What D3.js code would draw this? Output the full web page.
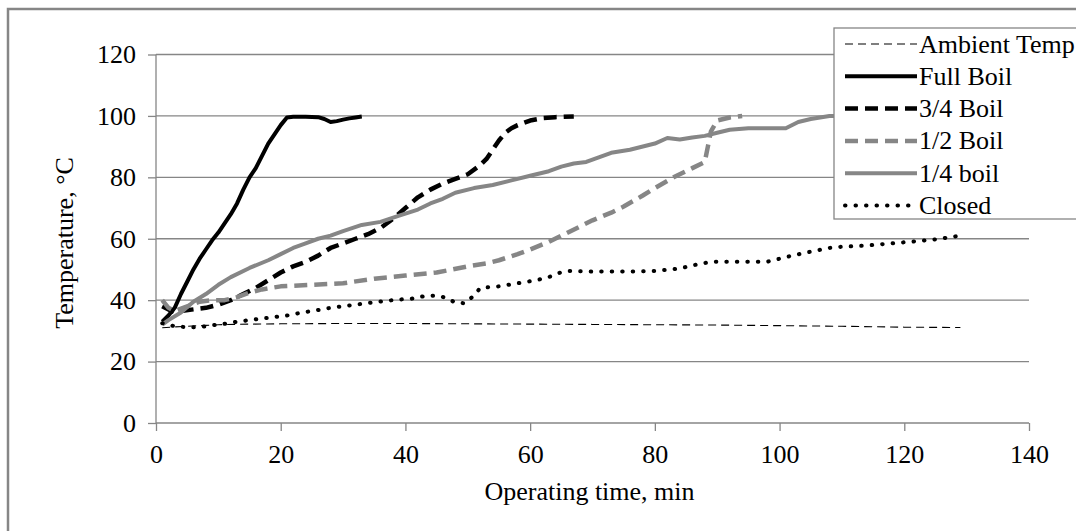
<!DOCTYPE html>
<html>
<head>
<meta charset="utf-8">
<script src="https://cdn.jsdelivr.net/npm/d3@7"></script>
<style>
  body { margin: 0; background: #fff; }
  svg { display: block; font-family: "Liberation Serif", "Times New Roman", serif; }
</style>
</head>
<body>
<div id="chart"></div>
<script>
// series data: time (min) and temperature (°C)
var ambientTime = [1, 3, 5, 8, 10, 15, 20, 30, 40, 50, 60, 70, 80, 90, 100, 110, 120, 129];
var ambientTemp = [31, 31.3, 31.5, 31.8, 32, 32.2, 32.3, 32.4, 32.4, 32.3, 32.2, 32.1, 32, 31.9, 31.7, 31.5, 31.2, 31.1];

var fullTime = [1, 2, 3, 4, 5, 6, 7, 8, 9, 10, 11, 12, 13, 14, 15, 16, 17, 18, 19, 20, 21, 22, 24, 26, 27, 28, 29, 30, 31, 32, 33];
var fullTemp = [33, 35, 37.5, 42, 46, 50, 53.5, 56.5, 59.5, 62, 65, 68, 71.5, 76, 80, 83, 87, 91, 94, 97, 99.5, 99.7, 99.7, 99.6, 99, 98, 98.3, 98.8, 99.2, 99.5, 99.8];

var threeQTime = [1, 2, 3, 4, 6, 8, 10, 12, 14, 16, 18, 20, 22, 24, 26, 28, 30, 32, 34, 36, 38, 40, 42, 44, 46, 48, 50, 52, 53, 54, 55, 56, 57, 58, 60, 62, 64, 67];
var threeQTemp = [38, 37, 36, 36.5, 37, 37.5, 38.5, 40, 42, 44, 46.5, 49, 51, 52.5, 54.5, 57, 58.5, 60, 61.5, 63.5, 66.5, 70, 73.5, 76, 78, 79.5, 81, 84, 86, 89, 92, 94.5, 96, 97, 98.5, 99.3, 99.6, 99.8];

var halfTime = [1, 2, 3, 5, 7, 9, 11, 13, 15, 17, 20, 25, 30, 35, 40, 45, 50, 53, 55, 58, 60, 63, 65, 68, 70, 73, 75, 78, 80, 83, 86, 88, 88.5, 89, 90, 92, 94];
var halfTemp = [40, 37.5, 36.5, 38, 39.5, 40, 40, 41, 42.5, 43.5, 44.5, 45, 45.5, 47, 48, 49, 51, 52, 53, 55, 56.5, 59, 61, 64, 66, 68.5, 70.5, 74, 76.5, 80, 83, 85, 90, 95, 98.5, 99.5, 100];

var quarterTime = [1, 2, 4, 6, 8, 10, 12, 15, 18, 20, 22, 24, 26, 28, 30, 33, 36, 39, 42, 44, 46, 48, 51, 54, 57, 60, 63, 65, 67, 69, 71, 73, 76, 80, 82, 84, 86, 88, 90, 92, 95, 98, 101, 103, 105, 108, 110];
var quarterTemp = [32, 33.5, 36, 39.5, 42, 45, 47.5, 50.5, 53, 55, 57, 58.5, 60, 61, 62.5, 64.5, 65.5, 67.5, 69.5, 71.5, 73, 75, 76.5, 77.5, 79, 80.5, 82, 83.5, 84.5, 85, 86.5, 88, 89, 91, 92.8, 92.3, 93, 93.5, 94.5, 95.5, 96, 96, 96, 98, 99, 100, 100];

var closedTime = [1, 3, 5, 7, 9, 11, 13, 15, 17, 19, 21, 23, 26, 28, 30, 33, 35, 37, 39, 41, 43, 45, 46.5, 48, 49.5, 51, 52, 55, 58, 61, 63, 64.5, 66, 70, 75, 80, 84, 86, 89, 92, 95, 98, 100, 102, 105, 108, 110, 114, 118, 122, 125, 129];
var closedTemp = [32.5, 31.5, 31.2, 31.2, 31.8, 32.3, 33, 33.5, 34, 34.5, 35, 35.8, 36.8, 37.5, 38, 38.8, 39.3, 39.8, 40.2, 40.5, 41.3, 41.5, 40.8, 39.2, 39, 41.5, 44, 44.5, 45.5, 46.5, 47.5, 48.8, 49.5, 49.3, 49.3, 49.5, 50.3, 51.3, 52.5, 52.5, 52.5, 52.5, 53.5, 54.5, 55.8, 57, 57.4, 57.8, 58.5, 59.2, 59.8, 61];

var seriesNames = ["Ambient Temp", "Full Boil", "3/4 Boil", "1/2 Boil", "1/4 boil", "Closed"];
var xTicks = [0, 20, 40, 60, 80, 100, 120, 140];
var yTicks = [0, 20, 40, 60, 80, 100, 120];

var styles = [
  { color: "#000", width: 1.1, dash: "8,5", cap: "butt" },
  { color: "#000", width: 4, dash: null, cap: "butt" },
  { color: "#000", width: 4.5, dash: "13,7", cap: "butt" },
  { color: "#868686", width: 4.5, dash: "13,7", cap: "butt" },
  { color: "#868686", width: 4, dash: null, cap: "butt" },
  { color: "#000", width: 4, dash: "0.5,10", cap: "round" }
];

var series = [
  d3.zip(ambientTime, ambientTemp),
  d3.zip(fullTime, fullTemp),
  d3.zip(threeQTime, threeQTemp),
  d3.zip(halfTime, halfTemp),
  d3.zip(quarterTime, quarterTemp),
  d3.zip(closedTime, closedTemp)
];

var width = 1076, height = 531;
var gridColor = "#868686";

var svg = d3.select("#chart").append("svg")
  .attr("width", width)
  .attr("height", height);

// outer chart frame (runs off the right and bottom of the picture)
svg.append("rect")
  .attr("x", 8).attr("y", 9)
  .attr("width", 1100).attr("height", 560)
  .attr("fill", "#fff")
  .attr("stroke", gridColor)
  .attr("stroke-width", 2.5);

var x = d3.scaleLinear().domain([0, 140]).range([156, 1029]);
var y = d3.scaleLinear().domain([0, 120]).range([423, 54.5]);

// gridlines
svg.append("g")
  .selectAll("line")
  .data(yTicks.filter(function(d) { return d > 0; }))
  .enter().append("line")
  .attr("x1", x(0)).attr("x2", x(140))
  .attr("y1", function(d) { return y(d); })
  .attr("y2", function(d) { return y(d); })
  .attr("stroke", gridColor)
  .attr("stroke-width", 1.3);

var xAxis = svg.append("g")
  .attr("transform", "translate(0," + y(0) + ")")
  .call(d3.axisBottom(x).tickValues(xTicks).tickSize(8).tickPadding(14).tickFormat(d3.format("d")));

var yAxis = svg.append("g")
  .attr("transform", "translate(" + x(0) + ",0)")
  .call(d3.axisLeft(y).tickValues(yTicks).tickSize(8).tickPadding(12).tickFormat(d3.format("d")));

[xAxis, yAxis].forEach(function(a) {
  a.select(".domain").attr("stroke", gridColor).attr("stroke-width", 1.3);
  a.selectAll(".tick line").attr("stroke", gridColor).attr("stroke-width", 1.3);
  a.selectAll(".tick text")
    .attr("fill", "#000")
    .style("font-family", "Liberation Serif")
    .style("font-size", "26px");
});
yAxis.select(".domain").attr("d", "M0," + y(0) + "V" + y(120));
xAxis.select(".domain").attr("d", "M" + x(0) + ",0H" + x(140));

// series lines
var line = d3.line()
  .x(function(d) { return x(d[0]); })
  .y(function(d) { return y(d[1]); });

svg.append("g")
  .selectAll("path")
  .data(series)
  .enter().append("path")
  .attr("d", line)
  .attr("fill", "none")
  .attr("stroke", function(d, i) { return styles[i].color; })
  .attr("stroke-width", function(d, i) { return styles[i].width; })
  .attr("stroke-dasharray", function(d, i) { return styles[i].dash; })
  .attr("stroke-linecap", function(d, i) { return styles[i].cap; })
  .attr("stroke-linejoin", "round");

// axis titles
svg.append("text")
  .attr("x", (x(0) + x(140)) / 2 - 3)
  .attr("y", 500)
  .attr("text-anchor", "middle")
  .style("font-size", "26px")
  .text("Operating time, min");

svg.append("text")
  .attr("transform", "translate(73,243) rotate(-90)")
  .attr("text-anchor", "middle")
  .style("font-size", "26px")
  .text("Temperature, °C");

// legend
var legend = svg.append("g");
legend.append("rect")
  .attr("x", 834).attr("y", 28)
  .attr("width", 300).attr("height", 191)
  .attr("fill", "#fff")
  .attr("stroke", gridColor)
  .attr("stroke-width", 1.3);

var items = legend.selectAll("g.item")
  .data(seriesNames)
  .enter().append("g")
  .attr("class", "item")
  .attr("transform", function(d, i) { return "translate(0," + (44 + i * 32.3) + ")"; });

items.append("line")
  .attr("x1", 845).attr("x2", 917)
  .attr("y1", 0).attr("y2", 0)
  .attr("stroke", function(d, i) { return styles[i].color; })
  .attr("stroke-width", function(d, i) { return styles[i].width; })
  .attr("stroke-dasharray", function(d, i) { return styles[i].dash; })
  .attr("stroke-linecap", function(d, i) { return styles[i].cap; });

items.append("text")
  .attr("x", 919)
  .attr("y", 0)
  .attr("dy", "0.33em")
  .style("font-size", "26px")
  .text(function(d) { return d; });
</script>
</body>
</html>
